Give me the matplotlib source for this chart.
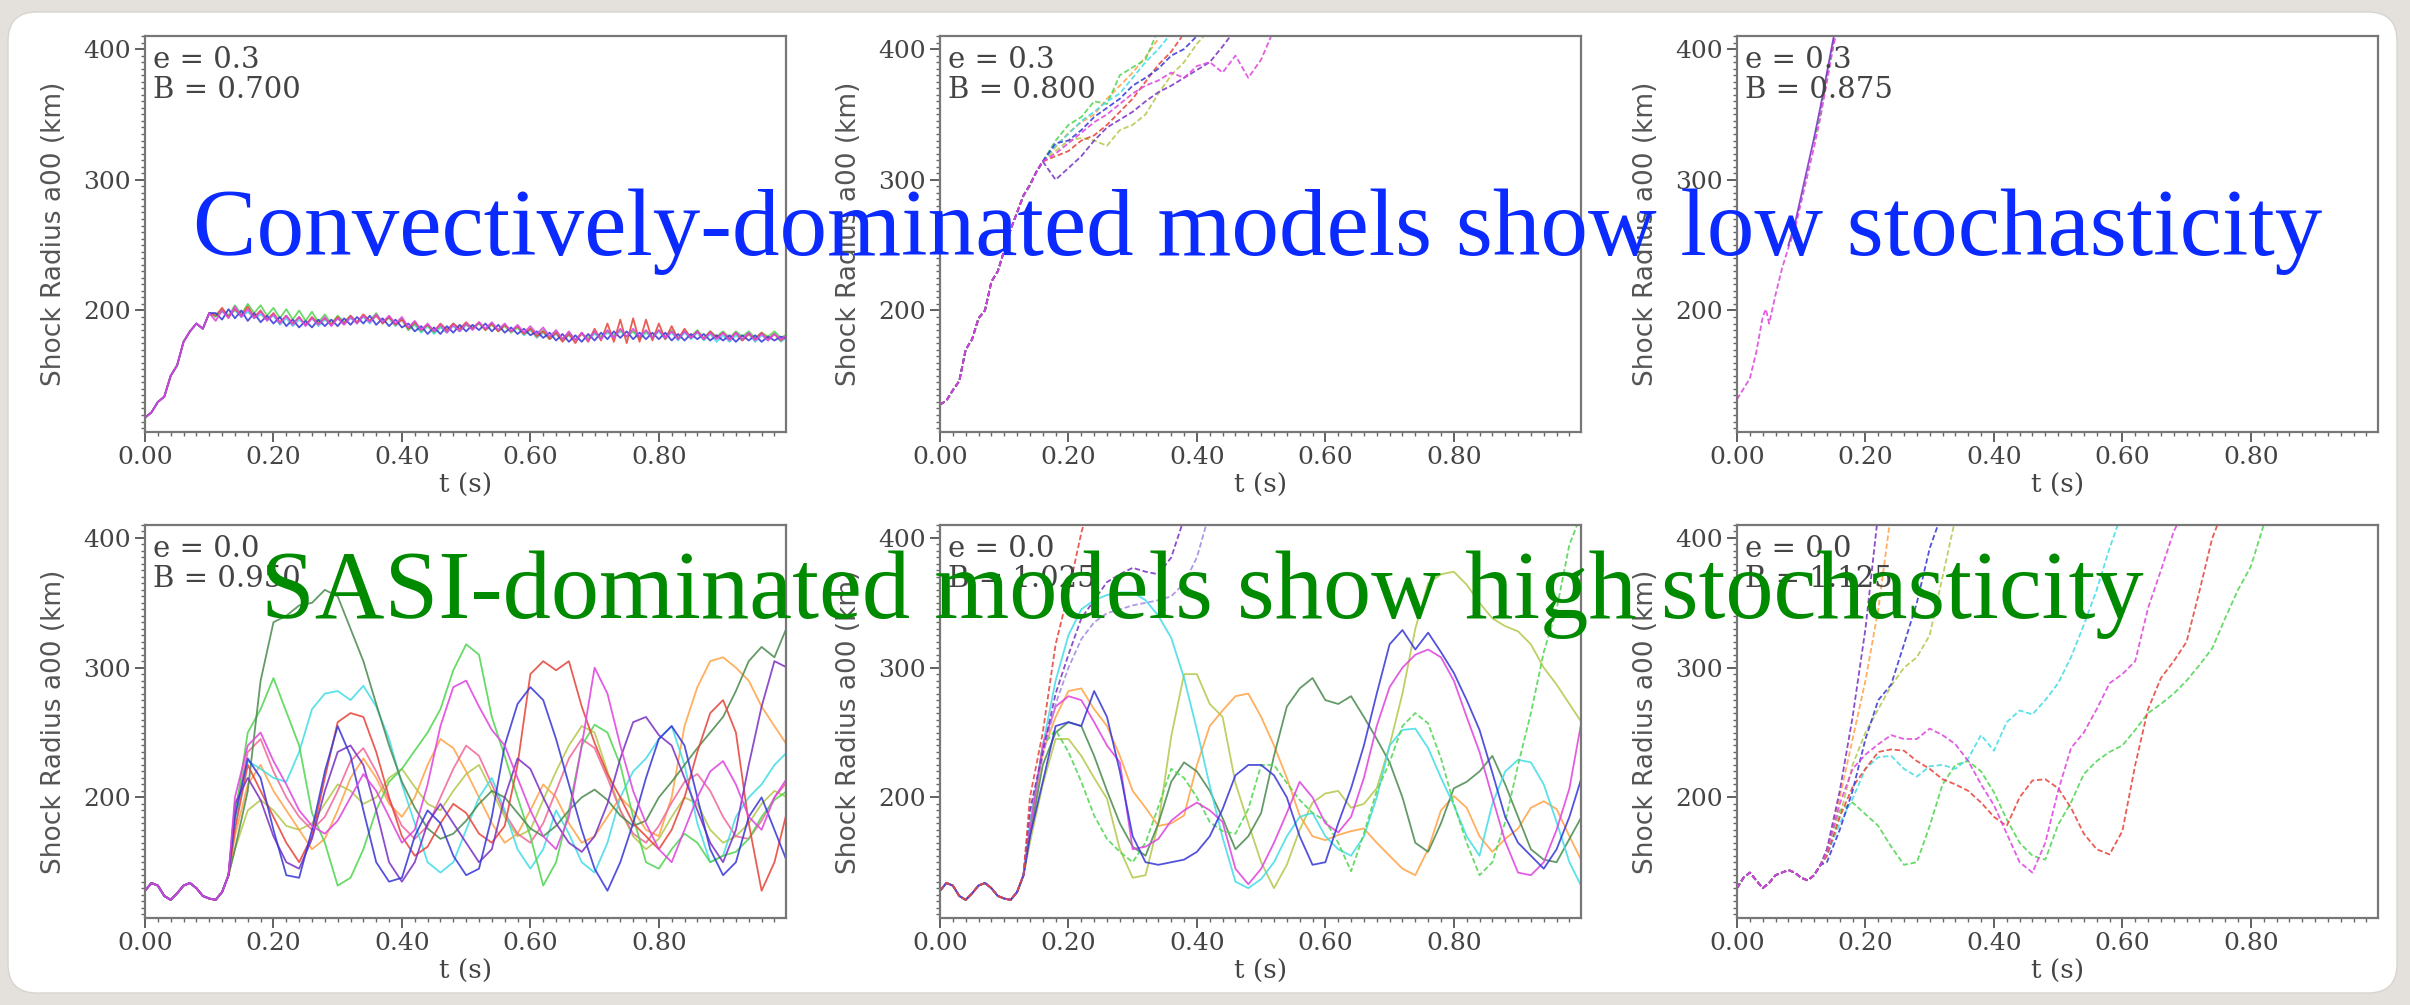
import numpy as np
import matplotlib.pyplot as plt
from matplotlib.patches import FancyBboxPatch
from matplotlib.ticker import MultipleLocator

plt.rcParams['font.family'] = ['DejaVu Serif']

# colours of the individual runs
red = '#e8473c'
green = '#52d652'
blue = '#3a3ad8'
cyan = '#44dde6'
magenta = '#e046e0'
orange = '#ffa448'
olive = '#b5c94e'
dkgreen = '#4e8c52'
purple = '#7b34c4'
pink = '#f06a9a'
violet = '#a58be0'

# ---------------- e = 0.3, B = 0.700 (t step 0.01) ----------------
t_conv = np.round(np.arange(0, 1.001, 0.01), 2)
conv_start = [118, 122, 130, 134, 150, 158, 176, 184, 190, 186, 198]
conv_magenta = conv_start + [
    192, 200, 194, 203, 195, 201, 194, 199, 192, 197,
    190, 196, 189, 195, 188, 194, 189, 195, 188, 194,
    189, 195, 190, 196, 191, 197, 191, 196, 190, 195,
    187, 192, 185, 190, 184, 189, 183, 189, 184, 190,
    185, 191, 186, 191, 185, 190, 184, 189, 183, 188,
    182, 187, 180, 185, 178, 184, 177, 183, 177, 184,
    178, 185, 179, 186, 180, 186, 180, 185, 179, 185,
    179, 184, 178, 184, 179, 184, 178, 183, 178, 183,
    177, 183, 178, 183, 177, 182, 177, 182, 178, 181]
conv_green = conv_start + [
    195, 201, 196, 204, 197, 205, 198, 204, 196, 202,
    194, 201, 193, 200, 192, 199, 191, 197, 190, 196,
    191, 196, 190, 196, 192, 198, 190, 195, 189, 194,
    185, 190, 184, 189, 183, 188, 184, 190, 185, 189,
    186, 190, 185, 189, 184, 188, 183, 187, 182, 186,
    181, 185, 179, 184, 178, 183, 178, 182, 179, 183,
    180, 184, 181, 185, 180, 184, 179, 184, 180, 185,
    180, 185, 179, 184, 180, 185, 179, 184, 180, 184,
    179, 184, 180, 184, 179, 183, 180, 184, 179, 182]
conv_blue = conv_start + [
    198, 193, 201, 194, 200, 192, 198, 191, 196, 190,
    195, 188, 193, 187, 192, 187, 193, 188, 193, 188,
    194, 189, 195, 190, 196, 189, 194, 188, 193, 187,
    190, 184, 188, 182, 187, 182, 188, 183, 189, 184,
    189, 185, 190, 184, 189, 183, 187, 182, 186, 181,
    184, 179, 183, 177, 182, 176, 181, 176, 182, 177,
    183, 178, 184, 179, 184, 178, 183, 178, 183, 178,
    183, 177, 182, 177, 182, 178, 182, 177, 181, 177,
    181, 176, 181, 177, 181, 176, 180, 177, 180, 178]
conv_red = conv_start + [
    196, 202, 195, 201, 196, 203, 195, 200, 193, 198,
    191, 196, 190, 195, 189, 195, 190, 194, 189, 195,
    190, 196, 191, 197, 192, 196, 190, 195, 189, 193,
    186, 191, 185, 189, 184, 190, 185, 190, 186, 191,
    186, 191, 185, 190, 184, 189, 184, 188, 182, 186,
    180, 184, 178, 183, 176, 182, 175, 183, 176, 186,
    177, 190, 176, 193, 175, 194, 176, 193, 177, 190,
    178, 188, 178, 186, 179, 184, 178, 184, 179, 183,
    178, 183, 177, 182, 178, 183, 178, 182, 177, 181]
conv_cyan = conv_start + [
    197, 199, 196, 200, 195, 199, 194, 197, 193, 196,
    189, 194, 188, 193, 189, 194, 188, 193, 189, 194,
    190, 194, 191, 195, 190, 196, 192, 194, 188, 193,
    185, 189, 183, 188, 182, 187, 183, 188, 184, 189,
    187, 190, 186, 190, 185, 189, 184, 187, 181, 185,
    179, 183, 178, 182, 177, 181, 178, 182, 178, 182,
    179, 183, 180, 184, 180, 184, 178, 183, 179, 184,
    178, 183, 177, 183, 178, 183, 177, 182, 176, 181,
    176, 181, 177, 182, 176, 181, 177, 182, 176, 180]

# ---------------- e = 0.3, B = 0.800 ----------------
t_rise2 = np.round(np.arange(0, 0.165, 0.01), 2)
rise2 = [128, 131, 139, 146, 170, 178, 194, 200, 222, 230, 246, 262, 275, 288, 296, 306, 314]
b800_green = [330, 342, 348, 360, 358, 380, 386, 392, 415]
b800_cyan = [326, 335, 345, 352, 360, 366, 378, 390, 400, 412]
b800_blue = [328, 330, 338, 348, 355, 362, 372, 378, 385, 395, 400, 410, 415]
b800_red = [318, 322, 330, 334, 342, 352, 362, 375, 388, 398, 412]
b800_olive = [322, 330, 332, 330, 326, 338, 342, 350, 366, 380, 390, 404, 415]
b800_purple = [300, 309, 318, 330, 340, 346, 352, 360, 367, 372, 378, 384, 390, 402, 415]
b800_magenta = [320, 328, 336, 344, 350, 358, 366, 372, 376, 382, 378, 387, 390, 382, 395, 378, 392, 415]
b800_orange = [325, 336, 344, 350, 362, 372, 382, 394, 408]

# ---------------- e = 0.3, B = 0.875 ----------------
t_b875 = [0, .01, .02, .03, .04, .045, .05, .06, .07, .08, .09, .10, .11, .12, .13, .14, .15, .16]
b875_magenta = [132, 140, 148, 168, 195, 201, 190, 212, 232, 248, 262, 283, 304, 325, 348, 375, 402, 425]
t_b875_purple = [.08, .09, .10, .11, .12, .13, .14, .15, .16]
b875_purple = [250, 266, 288, 310, 332, 356, 382, 408, 430]
t_b875_green = [.12, .13, .14, .15, .16]
b875_green = [330, 352, 380, 405, 428]

# ---------------- SASI panels: t step 0.01 up to 0.13, then 0.02 ----------------
t_pre = np.round(np.arange(0, 0.135, 0.01), 2)
sasi_pre = [128, 134, 132, 124, 121, 126, 132, 134, 130, 124, 122, 121, 127, 140]
sasi_pre_hi = [130, 138, 142, 136, 130, 134, 140, 142, 144, 142, 138, 136, 140, 148]

# e = 0.0, B = 0.950  (values for t = 0.14 ... 1.00)
b950_green = [185, 250, 268, 292, 266, 240, 188, 165, 132, 138, 160, 190, 212, 222, 236, 250, 268, 298, 318, 310,
              262, 232, 200, 170, 132, 150, 190, 240, 256, 250, 225, 185, 150, 145, 160, 172, 165, 150, 155, 158,
              168, 185, 198, 205]
b950_dkgreen = [160, 205, 290, 335, 340, 348, 350, 360, 355, 330, 305, 272, 240, 212, 192, 176, 168, 172, 182, 195,
                205, 200, 188, 176, 170, 178, 190, 200, 206, 198, 186, 178, 182, 200, 212, 225, 238, 250, 262, 282,
                305, 316, 308, 332]
b950_red = [175, 225, 205, 185, 165, 150, 170, 215, 258, 265, 262, 235, 200, 170, 155, 162, 180, 195, 188, 172,
            165, 178, 225, 295, 305, 298, 305, 270, 242, 218, 200, 180, 170, 160, 175, 200, 235, 265, 275, 250,
            180, 128, 150, 190]
b950_blue = [185, 230, 215, 175, 140, 138, 175, 220, 255, 232, 190, 150, 135, 138, 170, 190, 180, 155, 140, 145,
             185, 240, 272, 285, 275, 245, 210, 175, 145, 128, 150, 180, 215, 245, 255, 240, 200, 160, 140, 150,
             185, 200, 175, 150]
b950_cyan = [180, 228, 222, 215, 212, 235, 268, 280, 282, 275, 286, 270, 245, 210, 180, 150, 142, 150, 175, 200,
             215, 190, 160, 145, 160, 190, 172, 150, 142, 165, 200, 220, 230, 245, 255, 225, 180, 150, 155, 185,
             200, 210, 225, 235]
b950_magenta = [200, 240, 250, 228, 210, 190, 178, 172, 182, 200, 218, 205, 185, 165, 175, 210, 255, 285, 290, 270,
                252, 240, 215, 190, 170, 160, 185, 240, 300, 280, 240, 205, 180, 160, 150, 175, 200, 220, 228, 210,
                185, 175, 200, 215]
b950_orange = [170, 210, 225, 205, 190, 175, 160, 168, 190, 215, 230, 215, 195, 185, 200, 225, 245, 238, 220, 200,
               180, 165, 172, 190, 210, 200, 180, 165, 170, 185, 200, 190, 175, 170, 200, 255, 285, 305, 308, 300,
               290, 270, 255, 240]
b950_olive = [160, 190, 198, 190, 178, 175, 180, 195, 210, 205, 195, 200, 215, 222, 208, 195, 190, 205, 218, 225,
              205, 185, 170, 175, 198, 220, 240, 255, 250, 220, 190, 170, 160, 168, 185, 200, 195, 175, 165, 170,
              180, 195, 205, 200]
b950_purple = [195, 215, 198, 170, 150, 145, 168, 205, 235, 240, 225, 190, 150, 135, 150, 180, 195, 180, 165, 150,
               160, 200, 230, 222, 200, 180, 165, 158, 170, 195, 230, 258, 262, 248, 240, 215, 190, 165, 150, 175,
               225, 270, 305, 300]
b950_pink = [190, 235, 245, 220, 200, 185, 175, 185, 205, 228, 238, 220, 198, 178, 168, 178, 200, 222, 240, 232,
             210, 188, 172, 165, 180, 205, 230, 245, 238, 215, 190, 172, 165, 178, 196, 212, 218, 205, 185, 170,
             168, 182, 200, 212]

# e = 0.0, B = 1.025
b1025_cyan = [180, 240, 290, 325, 345, 352, 356, 358, 358, 352, 340, 323, 292, 252, 209, 169, 135, 130, 137, 150,
              170, 185, 188, 170, 160, 155, 170, 200, 240, 252, 253, 238, 215, 194, 170, 155, 195, 220, 229, 227,
              210, 181, 150, 130]
b1025_blue = [170, 212, 255, 258, 255, 282, 262, 220, 170, 150, 148, 150, 152, 158, 170, 191, 217, 225, 225, 217,
              200, 170, 148, 150, 180, 207, 240, 280, 318, 329, 314, 327, 312, 296, 275, 252, 219, 185, 165, 155,
              145, 160, 185, 217]
b1025_magenta = [175, 240, 270, 278, 275, 258, 240, 227, 160, 162, 168, 182, 190, 196, 190, 181, 145, 133, 145, 165,
                 188, 212, 200, 180, 173, 185, 215, 255, 285, 300, 310, 314, 308, 290, 262, 235, 200, 166, 142, 140,
                 150, 175, 207, 262]
b1025_orange = [170, 235, 262, 282, 284, 268, 255, 232, 205, 192, 178, 180, 186, 225, 255, 267, 278, 280, 262, 240,
                215, 186, 170, 167, 171, 174, 176, 165, 155, 145, 140, 160, 190, 201, 192, 170, 158, 168, 176, 192,
                197, 191, 170, 150]
b1025_olive = [165, 210, 245, 245, 232, 215, 199, 160, 138, 140, 180, 247, 295, 295, 272, 262, 211, 180, 150, 130,
               148, 175, 196, 203, 205, 192, 195, 207, 240, 280, 330, 365, 372, 374, 364, 350, 338, 332, 328, 318,
               300, 287, 272, 257]
b1025_dkgreen = [170, 225, 250, 258, 255, 232, 205, 180, 162, 155, 180, 212, 227, 220, 205, 184, 160, 170, 188, 232,
                 270, 284, 292, 275, 272, 278, 262, 245, 227, 200, 165, 158, 180, 207, 212, 220, 232, 210, 185, 160,
                 152, 150, 168, 186]
b1025_green = [175, 240, 252, 235, 212, 186, 168, 158, 150, 165, 193, 222, 215, 200, 181, 174, 172, 191, 225, 225,
               211, 198, 188, 182, 165, 143, 172, 205, 227, 255, 265, 257, 230, 195, 165, 140, 150, 181, 225, 265,
               312, 345, 395, 420]
b1025_red = [200, 250, 318, 358, 404, 440]
b1025_purple = [190, 235, 280, 310, 338, 352, 366, 372, 377, 374, 372, 385, 415]
b1025_violet = [188, 232, 272, 300, 322, 335, 342, 345, 348, 350, 352, 355, 365, 385, 420]

# e = 0.0, B = 1.125
b1125_purple = [160, 205, 262, 330, 420]
b1125_pink = [158, 200, 245, 290, 345, 420]
b1125_blue = [150, 175, 205, 245, 275, 287, 318, 350, 392, 420]
b1125_olive = [155, 185, 225, 250, 268, 286, 300, 308, 325, 370, 415]
b1125_cyan = [155, 180, 199, 222, 231, 232, 222, 216, 224, 225, 222, 230, 248, 236, 258, 267, 264, 275, 288, 308,
              333, 360, 392, 420]
b1125_magenta = [158, 195, 222, 233, 241, 248, 245, 245, 253, 248, 241, 228, 210, 194, 172, 150, 142, 165, 205, 238,
                 250, 268, 288, 295, 305, 346, 375, 405, 425]
b1125_red = [155, 185, 208, 222, 235, 237, 236, 228, 222, 214, 210, 205, 196, 185, 178, 200, 213, 214, 207, 192,
             172, 160, 156, 174, 225, 268, 292, 305, 320, 359, 400, 425]
b1125_green = [160, 190, 196, 187, 178, 162, 148, 150, 178, 210, 225, 228, 220, 204, 183, 165, 155, 152, 179, 196,
               218, 228, 235, 240, 252, 265, 272, 280, 290, 302, 315, 338, 360, 378, 410, 425]

panel_text = ['e = 0.3\nB = 0.700', 'e = 0.3\nB = 0.800', 'e = 0.3\nB = 0.875',
              'e = 0.0\nB = 0.950', 'e = 0.0\nB = 1.025', 'e = 0.0\nB = 1.125']


def after(start, vals, step=0.02):
    """time stamps for values that follow a shared early part"""
    return np.round(start + step * np.arange(len(vals)), 3)


def sasi(vals, pre=sasi_pre):
    return np.concatenate([t_pre, after(0.14, vals)]), np.array(pre + vals)


def rise(vals):
    return np.concatenate([t_rise2, after(0.18, vals)]), np.array(rise2 + vals)


# (t, values, colour, dashed)
panels = [
    [(t_conv, conv_cyan, cyan, False), (t_conv, conv_green, green, False), (t_conv, conv_red, red, False),
     (t_conv, conv_blue, blue, False), (t_conv, conv_magenta, magenta, False)],
    [(*rise(b800_olive), olive, True), (*rise(b800_orange), orange, True), (*rise(b800_green), green, True),
     (*rise(b800_cyan), cyan, True), (*rise(b800_red), red, True), (*rise(b800_blue), blue, True),
     (*rise(b800_purple), purple, True), (*rise(b800_magenta), magenta, True)],
    [(t_b875_green, b875_green, green, True), (t_b875, b875_magenta, magenta, True),
     (t_b875_purple, b875_purple, purple, False)],
    [(*sasi(b950_olive), olive, False), (*sasi(b950_orange), orange, False), (*sasi(b950_pink), pink, False),
     (*sasi(b950_cyan), cyan, False), (*sasi(b950_green), green, False), (*sasi(b950_dkgreen), dkgreen, False),
     (*sasi(b950_red), red, False), (*sasi(b950_purple), purple, False), (*sasi(b950_blue), blue, False),
     (*sasi(b950_magenta), magenta, False)],
    [(*sasi(b1025_olive), olive, False), (*sasi(b1025_orange), orange, False), (*sasi(b1025_dkgreen), dkgreen, False),
     (*sasi(b1025_cyan), cyan, False), (*sasi(b1025_green), green, True), (*sasi(b1025_magenta), magenta, False),
     (*sasi(b1025_blue), blue, False), (*sasi(b1025_violet), violet, True), (*sasi(b1025_purple), purple, True),
     (*sasi(b1025_red), red, True)],
    [(*sasi(b1125_olive, sasi_pre_hi), olive, True), (*sasi(b1125_green, sasi_pre_hi), green, True),
     (*sasi(b1125_cyan, sasi_pre_hi), cyan, True), (*sasi(b1125_red, sasi_pre_hi), red, True),
     (*sasi(b1125_pink, sasi_pre_hi), orange, True), (*sasi(b1125_blue, sasi_pre_hi), blue, True),
     (*sasi(b1125_purple, sasi_pre_hi), purple, True), (*sasi(b1125_magenta, sasi_pre_hi), magenta, True)],
]

W, H = 2410, 1005
fig = plt.figure(figsize=(W / 100, H / 100), dpi=100, facecolor='#e4e1dc')

card = FancyBboxPatch((8 / W, 12 / H), (2397 - 8) / W, (993 - 12) / H,
                      boxstyle='round,pad=0,rounding_size=0.012', mutation_aspect=W / H,
                      transform=fig.transFigure, fc='white', ec='#d8d5d0', lw=1, zorder=-10)
fig.patches.append(card)

lefts = [145, 940, 1737]
rows = [(36, 432), (525, 918)]

for k in range(6):
    top, bot = rows[k // 3]
    left = lefts[k % 3]
    ax = fig.add_axes([left / W, 1 - bot / H, 641 / W, (bot - top) / H])
    for t, v, c, dashed in panels[k]:
        if dashed:
            ax.plot(t, v, color=c, lw=1.3, alpha=0.88, dashes=(3, 1.5))
        else:
            ax.plot(t, v, color=c, lw=1.3, alpha=0.88)
    ax.set_xlim(0, 0.998)
    ax.set_ylim(107, 410)
    ax.set_xticks([0, 0.2, 0.4, 0.6, 0.8])
    ax.set_xticklabels(['0.00', '0.20', '0.40', '0.60', '0.80'])
    ax.set_yticks([200, 300, 400])
    ax.xaxis.set_minor_locator(MultipleLocator(0.02))
    ax.yaxis.set_minor_locator(MultipleLocator(5))
    ax.tick_params(which='major', length=7, width=1.3, color='#555555', labelsize=18,
                   labelcolor='#444444', pad=3)
    ax.tick_params(which='minor', length=3, width=1, color='#666666')
    for s in ax.spines.values():
        s.set_color('#777777')
        s.set_linewidth(1.6)
    ax.set_xlabel('t (s)', fontsize=19, color='#444444', labelpad=3)
    ax.set_ylabel('Shock Radius a00 (km)', family='DejaVu Sans', fontsize=19,
                  color='#555555', labelpad=12)
    ax.text(0.012, 0.975, panel_text[k], transform=ax.transAxes, ha='left', va='top',
            fontsize=21, color='#444444', linespacing=1.1)

fig.text(1258 / W, 1 - 255 / H, 'Convectively-dominated models show low stochasticity',
         ha='center', va='baseline', fontsize=68.5, family='Liberation Serif', color='#0a2aff', zorder=10)
fig.text(1202 / W, 1 - 618 / H, 'SASI-dominated models show high stochasticity',
         ha='center', va='baseline', fontsize=69.5, family='Liberation Serif', color='#008a00', zorder=10)

fig.savefig('out.png', dpi=100, facecolor=fig.get_facecolor())
